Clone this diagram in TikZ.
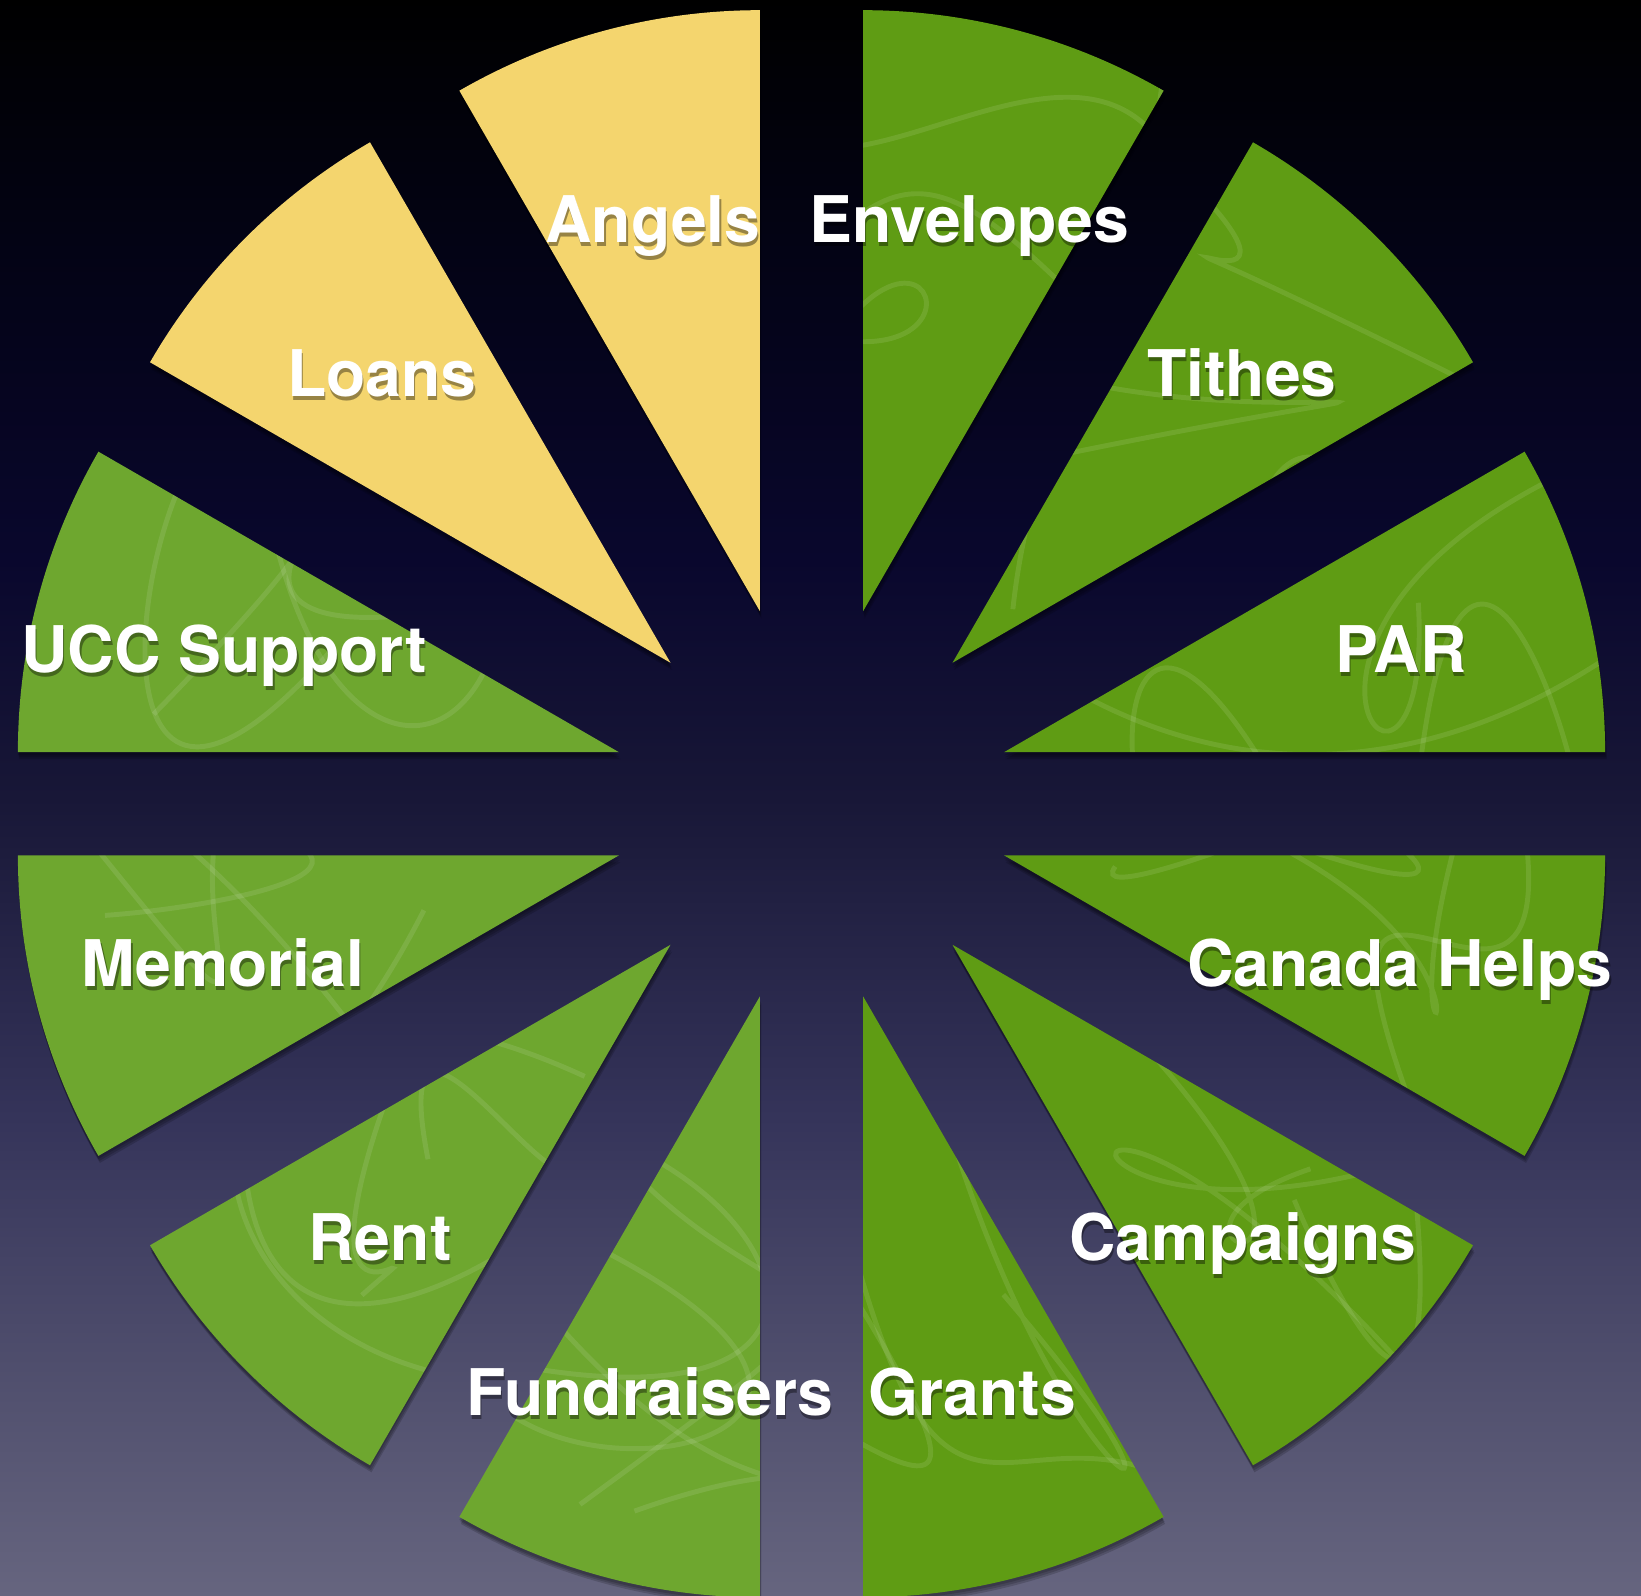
\documentclass[tikz,border=0pt]{standalone}
\usepackage{fontspec}
\setmainfont{TeX Gyre Heros}
\usetikzlibrary{calc}
\definecolor{gdark}{HTML}{5F9C14}
\definecolor{glight}{HTML}{6EA72F}
\definecolor{gyel}{HTML}{F4D56E}
\definecolor{bgA}{HTML}{000000}
\definecolor{bgB}{HTML}{030314}
\definecolor{bgC}{HTML}{09072D}
\definecolor{bgD}{HTML}{181737}
\definecolor{bgE}{HTML}{35345A}
\definecolor{bgF}{HTML}{4E4D6C}
\definecolor{bgG}{HTML}{66657F}
\pgfdeclareverticalshading{bgshade}{100bp}{color(0bp)=(bgG); color(25bp)=(bgG); color(32.5bp)=(bgF); color(40bp)=(bgE); color(50bp)=(bgD); color(57.5bp)=(bgC); color(67.5bp)=(bgB); color(75bp)=(bgA); color(100bp)=(bgA)}
\makeatletter
\newcommand\shtext[1]{\makebox[0pt][l]{\hspace*{0.35pt}\raisebox{-1pt}{\pgfsys@beginscope\pgfsys@fill@opacity{0.38}\color{black}#1\pgfsys@endscope}}#1}
\makeatother
\tikzset{
  lbl/.style={text=white, font=\fontsize{18.3}{22}\selectfont\bfseries, anchor=base, inner sep=0pt},
  texline/.style={white, opacity=0.10, line width=1.4pt},
  wshadow/.style={black, opacity=0.16}
}
\newcommand\mylab[4]{\node[lbl] (#1) at (#2,#3) {\shtext{#4}};}
\begin{document}
\begin{tikzpicture}[x=1cm,y=1cm]
\useasboundingbox (0,0) rectangle (16.41,15.96);
\shade[shading=bgshade] (0,0) rectangle (16.41,15.96);
\coordinate (C) at (8.115,7.922);
\def\dd{1.994}
\def\rr{6.01}
\pgfmathsetseed{17}
\foreach \a/\col/\tex in {0/gdark/1, 30/gdark/1, 60/gdark/1, 90/gyel/0, 120/gyel/0, 150/glight/1, 180/glight/1, 210/glight/1, 240/glight/1, 270/gdark/1, 300/gdark/1, 330/gdark/1}{
  \pgfmathsetmacro{\b}{\a+15}
  \pgfmathsetmacro{\e}{\a+30}
  \coordinate (A) at ($(C)+(\b:\dd)$);
  \foreach \sx/\sy in {0/-0.03, 0.01/-0.05, 0.015/-0.07}{
    \fill[wshadow] ($(A)+(\sx,\sy)$) -- ++(\a:\rr) arc[start angle=\a, end angle=\e, radius=\rr] -- cycle;
  }
  \fill[\col] (A) -- ++(\a:\rr) arc[start angle=\a, end angle=\e, radius=\rr] -- cycle;
  \ifnum\tex=1
  \begin{scope}
    \clip (A) -- ++(\a:\rr) arc[start angle=\a, end angle=\e, radius=\rr] -- cycle;
    \coordinate (M) at ($(A)+(\b:3.6)$);
    \foreach \k in {1,...,4}{
      \draw[texline] ($(M)+(rand*3,rand*3)$) .. controls ($(M)+(rand*3.5,rand*3.5)$) and ($(M)+(rand*3.5,rand*3.5)$) .. ($(M)+(rand*3,rand*3)$);
    }
  \end{scope}
  \fi
}
\mylab{angels}{6.53}{13.53}{Angels}
\mylab{envelopes}{9.69}{13.53}{Envelopes}
\mylab{loans}{3.82}{11.99}{Loans}
\mylab{tithes}{12.42}{11.99}{Tithes}
\mylab{ucc}{2.24}{9.23}{UCC Support}
\mylab{par}{14.01}{9.23}{PAR}
\mylab{memorial}{2.23}{6.09}{Memorial}
\mylab{canada}{14.00}{6.09}{Canada Helps}
\mylab{rent}{3.80}{3.35}{Rent}
\mylab{campaigns}{12.43}{3.35}{Campaigns}
\mylab{fundraisers}{6.50}{1.80}{Fundraisers}
\mylab{grants}{9.72}{1.80}{Grants}
\end{tikzpicture}
\end{document}
